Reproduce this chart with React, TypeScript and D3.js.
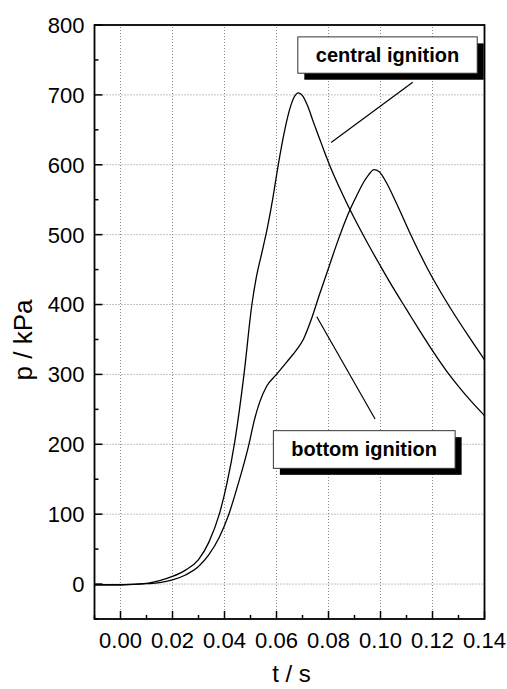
import * as d3 from "d3";

// central ignition pressure trace (t in s, p in kPa)
const centralT = [-0.01, 0.0, 0.01, 0.015, 0.02, 0.025, 0.03, 0.034, 0.038, 0.041, 0.044, 0.0475, 0.0505, 0.0522, 0.0543, 0.0565, 0.0585, 0.0605, 0.0633, 0.0652, 0.0668, 0.0684, 0.07, 0.072, 0.0742, 0.0765, 0.0785, 0.0806, 0.085, 0.09, 0.095, 0.1, 0.105, 0.11, 0.115, 0.12, 0.125, 0.13, 0.135, 0.14];
const centralP = [-1, -1, 1, 5, 11, 20, 35, 60, 100, 145, 205, 300, 399, 438, 473, 510, 550, 596, 652, 681, 697, 703, 699, 684, 661, 638, 618, 598, 561, 523, 488, 455, 423, 393, 363, 334, 307, 283, 261, 241];

// bottom ignition pressure trace
const bottomT = [-0.01, 0.0, 0.01, 0.015, 0.02, 0.025, 0.03, 0.034, 0.038, 0.0415, 0.045, 0.0494, 0.0515, 0.0535, 0.0562, 0.06, 0.064, 0.0677, 0.0703, 0.0735, 0.0765, 0.08, 0.0835, 0.0865, 0.0883, 0.091, 0.0935, 0.0955, 0.0975, 0.0995, 0.1022, 0.106, 0.111, 0.118, 0.1252, 0.1347, 0.14];
const bottomP = [-1, -1, 0.5, 2, 6, 13, 25, 42, 67, 98, 140, 200, 235, 260, 283, 300, 318, 335, 350, 380, 414, 452, 490, 520, 536, 557, 575, 586, 593, 590, 575, 546, 505, 452, 405, 350, 321];

const xTicks = [0.0, 0.02, 0.04, 0.06, 0.08, 0.1, 0.12, 0.14];
const xMinor = [-0.01, 0.01, 0.03, 0.05, 0.07, 0.09, 0.11, 0.13];
const yTicks = [0, 100, 200, 300, 400, 500, 600, 700, 800];
const yMinor = [-50, 50, 150, 250, 350, 450, 550, 650, 750];

// annotation boxes and pointers, in data units
const labels = [
  { text: "central ignition", t0: 0.0682, t1: 0.1372, pTop: 783, pBot: 731, tText: 0.1027, pText: 747, line: [[0.1124, 718], [0.081, 632]] },
  { text: "bottom ignition", t0: 0.0588, t1: 0.1287, pTop: 219.5, pBot: 165.6, tText: 0.0937, pText: 183, line: [[0.0979, 236.2], [0.0755, 382.6]] },
];

const width = 507;
const height = 689;
const margin = { top: 25, right: 22.5, bottom: 70, left: 94.5 };
const font = "'Liberation Sans', Arial, Helvetica, sans-serif";

export default function App() {
  const x = d3.scaleLinear()
    .domain([-0.01, 0.14])
    .range([margin.left, width - margin.right]);

  const y = d3.scaleLinear()
    .domain([-50, 800])
    .range([height - margin.bottom, margin.top]);

  const line = d3.line<[number, number]>()
    .x(d => x(d[0]))
    .y(d => y(d[1]))
    .curve(d3.curveMonotoneX);

  const central = centralT.map((t, i) => [t, centralP[i]] as [number, number]);
  const bottom = bottomT.map((t, i) => [t, bottomP[i]] as [number, number]);

  const x0 = x(-0.01), x1 = x(0.14);
  const y0 = y(-50), y1 = y(800);

  return (
    <div style={{ position: "absolute", left: 0, top: 0 }}>
      <svg width={width} height={height} style={{ display: "block", background: "#fff" }} fontFamily={font}>

        {/* grid */}
        {xTicks.filter(t => t < 0.139).map(t => (
          <line key={"gx" + t} x1={x(t)} x2={x(t)} y1={y0} y2={y1}
            stroke="#888" strokeWidth={1} strokeDasharray="1,2" />
        ))}
        {yTicks.filter(t => t < 800).map(t => (
          <line key={"gy" + t} x1={x0} x2={x1} y1={y(t)} y2={y(t)}
            stroke="#888" strokeWidth={1} strokeDasharray="1,2" />
        ))}

        {/* curves */}
        <path d={line(central) ?? ""} fill="none" stroke="#000" strokeWidth={1.3} />
        <path d={line(bottom) ?? ""} fill="none" stroke="#000" strokeWidth={1.3} />

        {/* ticks */}
        {xTicks.map(t => (
          <line key={"tx" + t} x1={x(t)} x2={x(t)} y1={y0} y2={y0 - 8} stroke="#000" strokeWidth={1.5} />
        ))}
        {xMinor.map(t => (
          <line key={"mx" + t} x1={x(t)} x2={x(t)} y1={y0} y2={y0 - 4} stroke="#000" strokeWidth={1.5} />
        ))}
        {yTicks.map(t => (
          <line key={"ty" + t} x1={x0} x2={x0 + 8} y1={y(t)} y2={y(t)} stroke="#000" strokeWidth={1.5} />
        ))}
        {yMinor.map(t => (
          <line key={"my" + t} x1={x0} x2={x0 + 4} y1={y(t)} y2={y(t)} stroke="#000" strokeWidth={1.5} />
        ))}

        {/* frame */}
        <rect x={x0} y={y1} width={x1 - x0} height={y0 - y1} fill="none" stroke="#000" strokeWidth={1.8} />

        {/* tick labels */}
        {xTicks.map(t => (
          <text key={"lx" + t} x={x(t)} y={y0 + 28.5} textAnchor="middle" fontSize={22} fill="#000">
            {t.toFixed(2)}
          </text>
        ))}
        {yTicks.map(t => (
          <text key={"ly" + t} x={x0 - 10} y={y(t)} dy="0.36em" textAnchor="end" fontSize={22} fill="#000">
            {t}
          </text>
        ))}

        {/* axis titles */}
        <text x={291.5} y={682} textAnchor="middle" fontSize={24} fill="#000">t / s</text>
        <text transform={`translate(31.5,${(y0 + y1) / 2 + 18}) rotate(-90)`} textAnchor="middle" fontSize={26} fill="#000">p / kPa</text>

        {/* annotations */}
        {labels.map(l => (
          <g key={l.text}>
            <line x1={x(l.line[0][0])} y1={y(l.line[0][1])} x2={x(l.line[1][0])} y2={y(l.line[1][1])}
              stroke="#000" strokeWidth={1.2} />
            <rect x={x(l.t0) + 6.5} y={y(l.pTop) + 6.5} width={x(l.t1) - x(l.t0)} height={y(l.pBot) - y(l.pTop)} fill="#000" />
            <rect x={x(l.t0)} y={y(l.pTop)} width={x(l.t1) - x(l.t0)} height={y(l.pBot) - y(l.pTop)}
              fill="#fff" stroke="#333" strokeWidth={1} />
            <text x={x(l.tText)} y={y(l.pText)} textAnchor="middle" fontSize={20} fontWeight="bold" fill="#000">
              {l.text}
            </text>
          </g>
        ))}

      </svg>
    </div>
  );
}
